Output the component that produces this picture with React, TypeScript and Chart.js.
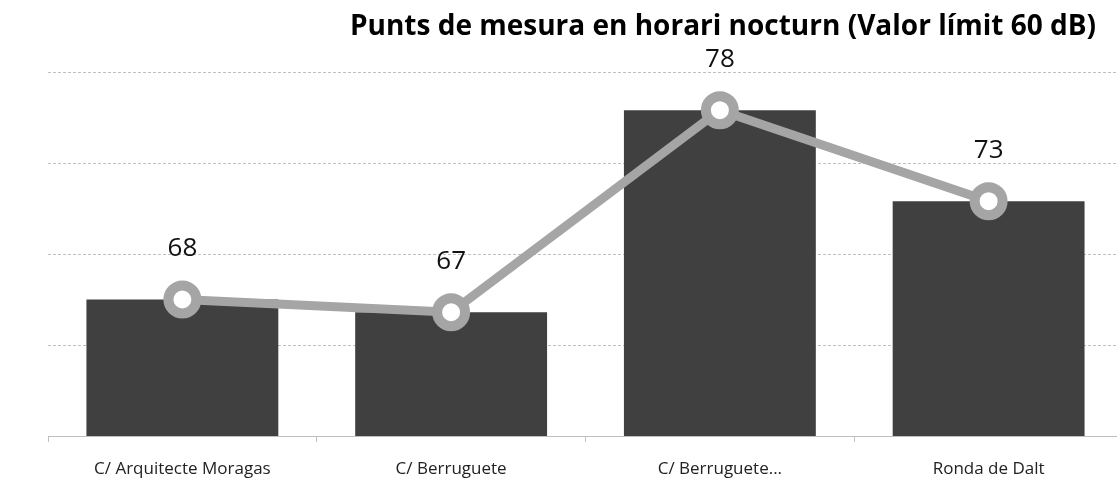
import React, { useEffect, useRef } from "react";
import { Chart, registerables } from "chart.js";

Chart.register(...registerables);

const categories = ["C/ Arquitecte Moragas", "C/ Berruguete", "C/ Berruguete...", "Ronda de Dalt"];
const values = [67.5, 66.8, 77.9, 72.9];
const yMin = 60;
const yMax = 80;
const yStep = 5;
const titleText = "Punts de mesura en horari nocturn (Valor límit 60 dB)";
const FONT = "'Open Sans', 'DejaVu Sans', sans-serif";

const overlayPlugin = {
  id: "overlay",
  afterDraw(chart: any) {
    const ctx = chart.ctx;
    const area = chart.chartArea;
    ctx.save();
    ctx.font = `700 28px ${FONT}`;
    ctx.fillStyle = "#000";
    ctx.textAlign = "right";
    ctx.textBaseline = "middle";
    ctx.fillText(titleText, area.right - 27, 27);
    const meta = chart.getDatasetMeta(1);
    ctx.font = `400 26px ${FONT}`;
    ctx.fillStyle = "#111";
    ctx.textAlign = "center";
    ctx.textBaseline = "middle";
    meta.data.forEach((bar: any, i: number) => {
      ctx.fillText(String(Math.round(values[i])), bar.x, bar.y - 51);
    });
    ctx.restore();
  },
};

export default function App() {
  const ref = useRef<HTMLCanvasElement>(null);
  useEffect(() => {
    if (!ref.current) return;
    const chart = new Chart(ref.current, {
      type: "bar",
      data: {
        labels: categories,
        datasets: [
          {
            type: "line",
            data: values,
            borderColor: "#a5a5a5",
            borderWidth: 9,
            pointRadius: 14,
            pointBorderWidth: 10,
            pointBackgroundColor: "#ffffff",
            pointBorderColor: "#a5a5a5",
            tension: 0,
            order: 0,
          } as any,
          {
            type: "bar",
            data: values,
            backgroundColor: "#404040",
            categoryPercentage: 1,
            barPercentage: 0.714,
            order: 1,
          },
        ],
      },
      options: {
        animation: false,
        responsive: true,
        maintainAspectRatio: false,
        layout: { padding: { top: 72, left: 48, right: 0, bottom: 0 } },
        plugins: {
          legend: { display: false },
          tooltip: { enabled: false },
          title: { display: false },
        },
        scales: {
          x: {
            offset: true,
            afterFit(scale: any) {
              scale.height = 42;
            },
            grid: {
              display: true,
              drawOnChartArea: false,
              drawTicks: true,
              tickLength: 6,
              color: "#bfbfbf",
              offset: true,
            },
            border: { display: true, color: "#bfbfbf", width: 1 },
            ticks: {
              padding: 17,
              color: "#222",
              font: { family: FONT, size: 17 },
              maxRotation: 0,
              autoSkip: false,
            },
          },
          y: {
            min: yMin,
            max: yMax,
            ticks: { display: false, stepSize: yStep },
            border: { display: false, dash: [3, 2] },
            grid: { color: "#bfbfbf", drawTicks: false, lineWidth: 1 },
          },
        },
      },
      plugins: [overlayPlugin],
    });
    return () => chart.destroy();
  }, []);
  return (
    <div style={{ position: "fixed", left: 0, top: 0, width: 1117, height: 478, overflow: "hidden", background: "#fff" }}>
      <div style={{ position: "relative", width: 1147, height: 478 }}>
        <canvas ref={ref} />
      </div>
    </div>
  );
}
